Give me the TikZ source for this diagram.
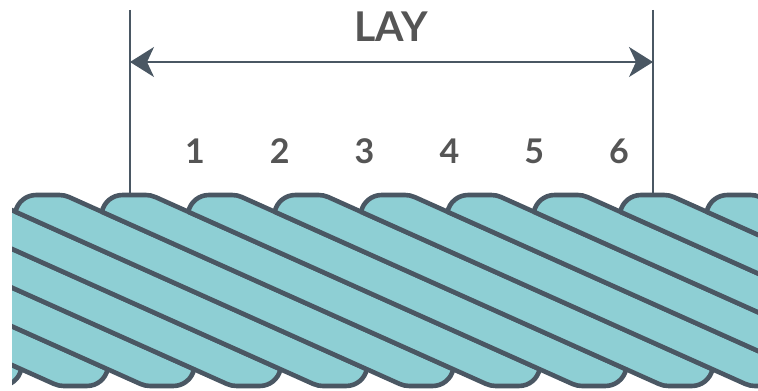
\documentclass[tikz,border=0pt]{standalone}
\usepackage{fontspec}
\setmainfont{Lato}
\usetikzlibrary{arrows.meta}
\definecolor{RopeFill}{RGB}{142,207,212}
\definecolor{RopeLine}{RGB}{74,87,99}
\definecolor{LabelGray}{RGB}{85,85,85}

\begin{document}
\begin{tikzpicture}[x=0.5pt, y=0.5pt,
    strand/.style={fill=RopeFill, draw=RopeLine, line width=2.3pt, line join=round},
    guide/.style={draw=RopeLine, line width=1pt},
    laylabel/.style={font=\bfseries\fontsize{20.5}{24}\selectfont, text=LabelGray},
    countlabel/.style={font=\bfseries\fontsize{17}{20}\selectfont, text=LabelGray}]
  \useasboundingbox (0,0) rectangle (758,390);
  % twisted strands, one band per step of 86.4
  \begin{scope}
    \clip (12,0) rectangle (758,390);
    \foreach \j in {-6,...,8}{
      \pgfmathsetmacro{\a}{64.4+86.4*\j}
      \filldraw[strand] (\a+37.5,178.2) arc[start angle=168.4, end angle=90, radius=21]
        -- (\a+81.3,195) arc[start angle=90, end angle=65.9, radius=24]
        -- (\a+475.2,20.8) arc[start angle=348.4, end angle=270, radius=21]
        -- (\a+431.4,4) arc[start angle=270, end angle=245.9, radius=24]
        -- cycle;
    }
  \end{scope}
  % extension lines and the lay dimension
  \coordinate (LeftTop) at (130,380);
  \coordinate (LeftFoot) at (130,197);
  \coordinate (RightTop) at (653,380);
  \coordinate (RightFoot) at (653,197);
  \coordinate (LeftEnd) at (130,328);
  \coordinate (RightEnd) at (653,328);
  \draw[guide] (LeftTop) -- (LeftFoot);
  \draw[guide] (RightTop) -- (RightFoot);
  \draw[guide, {Stealth[length=12pt,width=15pt,inset=3.5pt]}-{Stealth[length=12pt,width=15pt,inset=3.5pt]}] (LeftEnd) -- (RightEnd);
  \node[laylabel] (lay) at (391,363) {LAY};
  \foreach \n in {1,...,6}{\node[countlabel] (n\n) at (110.2+84.8*\n,238.5) {\n};}
\end{tikzpicture}
\end{document}
